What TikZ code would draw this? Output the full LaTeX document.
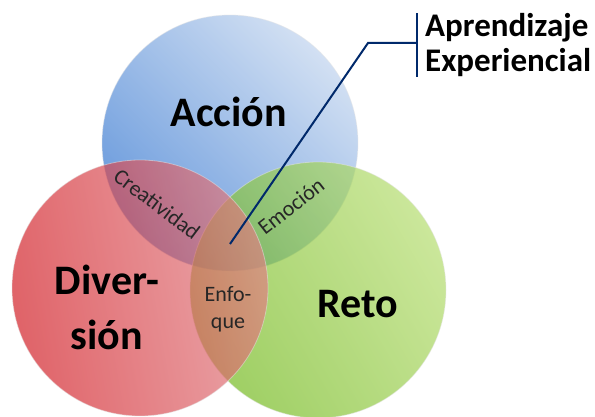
\documentclass[tikz,border=0pt]{standalone}
\usepackage{fontspec}
\setmainfont{Carlito}
\usetikzlibrary{positioning}
\definecolor{azulaccion}{rgb}{0.14, 0.42, 0.80}
\definecolor{azulclaro}{rgb}{0.74, 0.82, 0.93}
\definecolor{rojodiversion}{rgb}{0.82, 0.10, 0.13}
\definecolor{rojoclaro}{rgb}{0.88, 0.50, 0.52}
\definecolor{verdereto}{rgb}{0.44, 0.72, 0.10}
\definecolor{verdeclaro}{rgb}{0.70, 0.86, 0.42}
\definecolor{azulenlace}{rgb}{0.0, 0.16, 0.42}
\tikzset{
	circulo/.style={draw=white!80!gray, line width=0.8pt, fill opacity=0.68, draw opacity=0.5},
	titulo/.style={font=\bfseries\fontsize{42}{55}\selectfont, align=center, text=black},
	cruce/.style={font=\fontsize{22}{27}\selectfont, align=center, text=black!85},
	enlace/.style={draw=azulenlace, line width=2pt}
}

\begin{document}
\begin{tikzpicture}[x=1pt,y=1pt]
		\useasboundingbox (0,0) rectangle (595,416);
		\shade[circulo, top color=azulclaro, bottom color=azulaccion, shading angle=-45] (230,273) circle (128pt);
		\shade[circulo, top color=verdeclaro, bottom color=verdereto, shading angle=-60] (318,126) circle (128pt);
		\shade[circulo, top color=rojoclaro, bottom color=rojodiversion, shading angle=-80] (140,128) circle (128pt);
		\node[titulo] (accion) at (229,304) {Acción};
		\node[titulo] (diversion) at (107,109) {Diver-\\sión};
		\node[titulo] (reto) at (358,112) {Reto};
		\node[cruce, rotate=-37] (creatividad) at (157,212) {Creatividad};
		\node[cruce, rotate=38] (emocion) at (291,210) {Emoción};
		\node[cruce] (enfoque) at (228,107) {Enfo-\\que};
		\node[anchor=west, inner sep=0pt, align=left, font=\bfseries\fontsize{33}{35}\selectfont] (aprendizaje) at (425,371) {Aprendizaje\\Experiencial};
		\coordinate (barra) at ([xshift=-8pt]aprendizaje.west);
		\coordinate (foco) at (230,172);
		\coordinate (codo) at (368,373);
		\draw[enlace] (barra |- aprendizaje.north) -- (barra |- aprendizaje.south);
		\draw[enlace] (foco) -- (codo) -- (codo -| barra);
	\end{tikzpicture}
\end{document}
